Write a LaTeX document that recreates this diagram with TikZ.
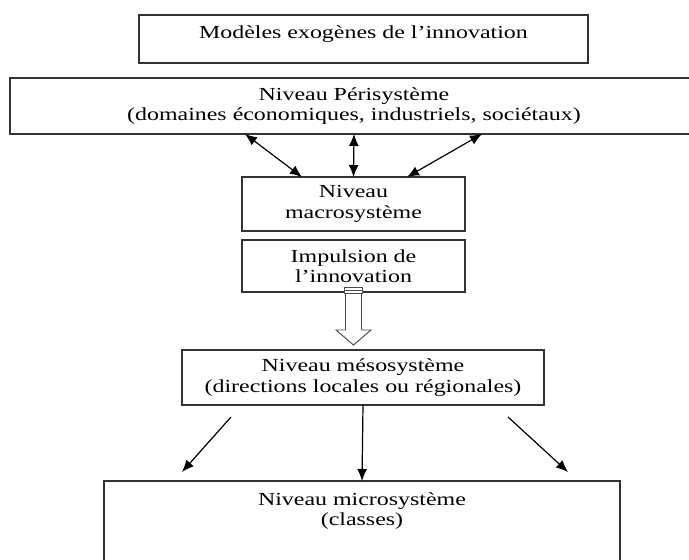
\documentclass[tikz,border=0pt]{standalone}
\usepackage{fontspec}
\setmainfont{Liberation Serif}[FakeStretch=1.3]
\usetikzlibrary{arrows.meta,calc}

\tikzset{
  boite/.style={draw=black!80, line width=1pt, inner sep=0pt, outer sep=0pt, align=center, font=\fontsize{13.8}{15.4}\selectfont},
  texte/.style={inner sep=0pt, align=center, font=\fontsize{13.8}{15.4}\selectfont},
  fleche/.style={-{Latex[length=9pt,width=7.5pt]}, line width=0.9pt},
  dfleche/.style={{Latex[length=9pt,width=7.5pt]}-{Latex[length=9pt,width=7.5pt]}, line width=0.9pt},
  creuse/.style={draw=black!70, line width=0.7pt, fill=white},
}

\begin{document}
\begin{tikzpicture}[x=0.75pt,y=-0.75pt]
\useasboundingbox (0,0) rectangle (689,560);

% 绘制方框
\node[boite, minimum width=336.75pt, minimum height=36pt] (exo) at (363.5,39) {}; % 外生模型
\node[texte, anchor=base] (exotxt) at (363.5,39) {Modèles exogènes de l’innovation};
\node[boite, minimum width=516pt, minimum height=42pt] (peri) at (354,106) {Niveau Périsystème\\(domaines économiques, industriels, sociétaux)}; % 外围系统
\node[boite, minimum width=167.25pt, minimum height=40.5pt] (macro) at (353.5,204) {Niveau\\macrosystème}; % 宏观
\node[boite, minimum width=167.25pt, minimum height=39pt] (impuls) at (353.5,266) {Impulsion de\\l’innovation}; % 推动
\node[boite, minimum width=271.5pt, minimum height=41.25pt] (meso) at (363,377.5) {Niveau mésosystème\\(directions locales ou régionales)}; % 中观
\node[boite, minimum width=387pt, minimum height=90pt] (micro) at (362,541) {}; % 微观
\node[texte, anchor=north] (microtxt) at (362,492) {Niveau microsystème\\(classes)};

% 双向箭头
\draw[dfleche] ($(peri.south)+(-109,0)$) -- ($(macro.north)+(-51.5,0)$); % 左
\draw[dfleche] (peri.south) -- (macro.north); % 中
\draw[dfleche] ($(peri.south)+(128,0)$) -- ($(macro.north)+(53.5,0)$); % 右

% 空心箭头
\draw[creuse] ($(impuls.south)+(-8,1)$) -- ++(0,37) -- ++(-9.5,0) -- ++(17.5,15) -- ++(17.5,-15) -- ++(-9.5,0) -- ++(0,-37) -- cycle;
\draw[creuse] ($(impuls.south)+(-9,-5)$) rectangle ++(18,6);
\draw[creuse] ($(impuls.south)+(-9,-2)$) -- ++(18,0);

% 向下箭头
\draw[fleche] ($(meso.south)+(-132,12)$) -- ($(micro.north)+(-180,-9)$); % 左
\draw[fleche] (meso.south) -- (micro.north); % 中
\draw[fleche] ($(meso.south)+(145,12)$) -- ($(micro.north)+(206,-9)$); % 右

\end{tikzpicture}
\end{document}
